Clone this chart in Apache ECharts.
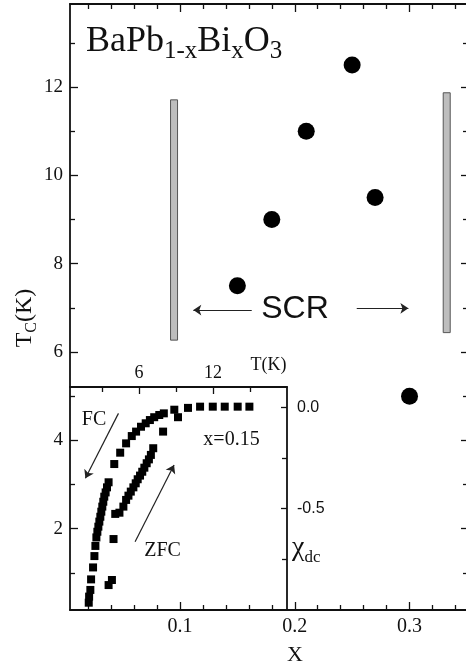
<!DOCTYPE html>
<html>
<head>
<meta charset="utf-8">
<script src="https://cdn.jsdelivr.net/npm/echarts@6/dist/echarts.min.js"></script>
<style>
html,body{margin:0;padding:0;background:#fff;}
#chart{width:466px;height:666px;}
</style>
</head>
<body>
<div id="chart"></div>
<script>
// ---- Main panel data: Tc vs Bi content x ----
const dopingX = [0.15, 0.18, 0.21, 0.25, 0.27, 0.30];
const tcK = [7.5, 9.0, 11.0, 12.5, 9.5, 5.0];

// SCR boundary bars (x, top Tc, bottom Tc)
const scrBoundX = [0.0948, 0.3324];
const scrBoundTop = [11.71, 11.87];
const scrBoundBottom = [6.27, 6.44];

// SCR arrows (start x, end x, y)
const scrArrowStartX = [0.1625, 0.254];
const scrArrowEndX = [0.1116, 0.299];
const scrArrowY = [6.95, 6.99];

// ---- Inset data: chi_dc vs T (x = 0.15) ----
const fcT = [1.92, 1.95, 2.05, 2.11, 2.27, 2.38, 2.46, 2.54, 2.62, 2.70, 2.78, 2.86, 2.94, 3.02, 3.10, 3.18, 3.29, 3.40, 3.53, 3.99, 4.47, 4.95, 5.41, 5.76, 6.16, 6.54, 6.88, 7.23, 7.64, 8.01, 8.86, 9.97, 10.95, 11.98, 12.95, 14.0, 14.95];
const fcChi = [-0.964, -0.934, -0.901, -0.849, -0.790, -0.734, -0.684, -0.642, -0.614, -0.589, -0.564, -0.540, -0.515, -0.490, -0.466, -0.441, -0.420, -0.395, -0.370, -0.280, -0.224, -0.178, -0.142, -0.120, -0.096, -0.079, -0.063, -0.049, -0.038, -0.030, -0.012, -0.003, 0.003, 0.003, 0.003, 0.003, 0.003];
const zfcT = [3.53, 3.80, 3.93, 4.07, 4.41, 4.73, 4.95, 5.14, 5.33, 5.54, 5.73, 5.89, 6.08, 6.26, 6.43, 6.62, 6.80, 6.96, 7.15, 7.95, 9.16];
const zfcChi = [-0.877, -0.852, -0.650, -0.526, -0.520, -0.490, -0.457, -0.436, -0.416, -0.395, -0.375, -0.355, -0.337, -0.318, -0.298, -0.276, -0.257, -0.235, -0.202, -0.120, -0.049];

// Inset arrows (T, chi)
const fcArrowFrom = [4.33, -0.030];
const fcArrowTo = [1.65, -0.350];
const zfcArrowFrom = [5.68, -0.663];
const zfcArrowTo = [8.84, -0.285];

// ---- Tick values ----
const xMajorTicks = [0.1, 0.2, 0.3];
const xMinorTicks = [0.02, 0.04, 0.06, 0.08, 0.12, 0.14, 0.16, 0.18, 0.22, 0.24, 0.26, 0.28, 0.32, 0.34];
const yMajorTicks = [2, 4, 6, 8, 10, 12];
const yMinorTicks = [1, 3, 5, 7, 9, 11, 13];
const tMajorTicks = [6, 12];
const tMinorTicks = [3, 9, 15];
const chiMajorTicks = [0, -0.5];
const chiMinorTicks = [-0.25, -0.75];

const X_MIN = 0.00414, X_MAX = 0.3527;
const Y_MIN = 0.16, Y_MAX = 13.88;
const T_MIN = 0.4, T_MAX = 18;
const CHI_MIN = -1.0, CHI_MAX = 0.1;

const INK = '#111';
const SERIF = 'Liberation Serif';
const SANS = 'Liberation Sans';

function ax(o) {
  const base = {
    type: 'value',
    splitLine: {show: false},
    axisLine: {show: false, onZero: false, lineStyle: {color: INK, width: 1.8}},
    axisTick: {show: true, inside: true, length: 8, lineStyle: {color: INK, width: 1.3}},
    axisLabel: {show: false},
    animation: false
  };
  const r = Object.assign({}, base, o);
  if (o.axisTick) r.axisTick = Object.assign({}, base.axisTick, o.axisTick);
  if (o.axisLine) r.axisLine = Object.assign({}, base.axisLine, o.axisLine);
  return r;
}

const xAxes = [
  ax({gridIndex: 0, position: 'bottom', min: X_MIN, max: X_MAX,
      axisLine: {show: true},
      axisTick: {customValues: xMajorTicks, length: 8},
      axisLabel: {show: true, customValues: xMajorTicks, formatter: v => v.toFixed(1),
                  fontFamily: SERIF, fontSize: 20, color: INK, margin: 7}}),
  ax({gridIndex: 0, position: 'bottom', min: X_MIN, max: X_MAX,
      axisTick: {customValues: xMinorTicks, length: 5}}),
  ax({gridIndex: 0, position: 'top', min: X_MIN, max: X_MAX,
      axisLine: {show: true},
      axisTick: {customValues: xMajorTicks, length: 8}}),
  ax({gridIndex: 0, position: 'top', min: X_MIN, max: X_MAX,
      axisTick: {customValues: xMinorTicks, length: 5}}),
  ax({gridIndex: 1, position: 'top', min: T_MIN, max: T_MAX,
      axisLine: {show: true},
      axisTick: {customValues: tMinorTicks, length: 5}}),
  ax({gridIndex: 1, position: 'top', min: T_MIN, max: T_MAX,
      axisTick: {customValues: tMajorTicks, length: 7},
      axisLabel: {show: true, customValues: tMajorTicks, fontFamily: SERIF, fontSize: 18, color: INK, margin: 5}})
];

const yAxes = [
  ax({gridIndex: 0, position: 'left', min: Y_MIN, max: Y_MAX,
      axisLine: {show: true},
      axisTick: {customValues: yMajorTicks, length: 8},
      axisLabel: {show: true, customValues: yMajorTicks, fontFamily: SERIF, fontSize: 19, color: INK, margin: 7}}),
  ax({gridIndex: 0, position: 'left', min: Y_MIN, max: Y_MAX,
      axisTick: {customValues: yMinorTicks, length: 5}}),
  ax({gridIndex: 0, position: 'right', min: Y_MIN, max: Y_MAX,
      axisLine: {show: true},
      axisTick: {customValues: yMajorTicks, length: 9}}),
  ax({gridIndex: 0, position: 'right', min: Y_MIN, max: Y_MAX,
      axisTick: {customValues: yMinorTicks, length: 7}}),
  ax({gridIndex: 1, position: 'right', min: CHI_MIN, max: CHI_MAX,
      axisLine: {show: true},
      axisTick: {customValues: chiMinorTicks, length: 5}}),
  ax({gridIndex: 1, position: 'right', min: CHI_MIN, max: CHI_MAX,
      axisTick: {customValues: chiMajorTicks, length: 6},
      axisLabel: {show: true, customValues: chiMajorTicks, formatter: v => v.toFixed(1),
                  fontFamily: SANS, fontSize: 16, color: INK, margin: 10}})
];

function zip(a, b) { return a.map((v, i) => [v, b[i]]); }

const series = [
  {
    type: 'custom', xAxisIndex: 0, yAxisIndex: 0, silent: true,
    data: scrBoundX.map((x, i) => [x, scrBoundTop[i], scrBoundBottom[i]]),
    encode: {x: 0, y: [1, 2]},
    renderItem: function (params, api) {
      const p1 = api.coord([api.value(0), api.value(1)]);
      const p2 = api.coord([api.value(0), api.value(2)]);
      const w = 7;
      return {type: 'rect', shape: {x: p1[0] - w / 2, y: p1[1], width: w, height: p2[1] - p1[1]},
              style: {fill: '#bdbdbd', stroke: '#555', lineWidth: 1}};
    }
  },
  {
    type: 'scatter', xAxisIndex: 0, yAxisIndex: 0, symbol: 'circle', symbolSize: 17,
    itemStyle: {color: '#000', opacity: 1}, data: zip(dopingX, tcK), silent: true
  },
  {
    type: 'lines', coordinateSystem: 'cartesian2d', xAxisIndex: 0, yAxisIndex: 0, silent: true,
    symbol: ['none', 'arrow'], symbolSize: [0, 8],
    lineStyle: {color: '#222', width: 1.2, opacity: 1, curveness: 0},
    data: scrArrowStartX.map((x, i) => ({coords: [[x, scrArrowY[i]], [scrArrowEndX[i], scrArrowY[i]]]}))
  },
  {
    type: 'scatter', xAxisIndex: 4, yAxisIndex: 4, symbol: 'rect', symbolSize: 8,
    itemStyle: {color: '#000', opacity: 1}, data: zip(fcT, fcChi), silent: true
  },
  {
    type: 'scatter', xAxisIndex: 4, yAxisIndex: 4, symbol: 'rect', symbolSize: 8,
    itemStyle: {color: '#000', opacity: 1}, data: zip(zfcT, zfcChi), silent: true
  },
  {
    type: 'lines', coordinateSystem: 'cartesian2d', xAxisIndex: 4, yAxisIndex: 4, silent: true,
    symbol: ['none', 'arrow'], symbolSize: [0, 8],
    lineStyle: {color: '#222', width: 1.2, opacity: 1, curveness: 0},
    data: [{coords: [fcArrowFrom, fcArrowTo]}, {coords: [zfcArrowFrom, zfcArrowTo]}]
  }
];

function txt(x, y, text, font, size, align, valign, extra) {
  return Object.assign({
    type: 'text', x: x, y: y, silent: true, z: 100,
    style: {text: text, fontFamily: font, fontSize: size, fill: INK,
            align: align, verticalAlign: valign, textAlign: align, textVerticalAlign: valign}
  }, extra || {});
}

const graphic = [
  {
    type: 'text', x: 86, y: 20, silent: true, z: 100,
    style: {
      text: '{m|BaPb}{s|1-x}{m|Bi}{s|x}{m|O}{s|3}',
      align: 'left', verticalAlign: 'top', textAlign: 'left', textVerticalAlign: 'top',
      rich: {
        m: {fontFamily: SERIF, fontSize: 36, lineHeight: 44, fill: INK},
        s: {fontFamily: SERIF, fontSize: 25, lineHeight: 8, verticalAlign: 'bottom', fill: INK}
      }
    }
  },
  txt(295, 309, 'SCR', SANS, 32, 'center', 'middle'),
  txt(94, 420, 'FC', SERIF, 20, 'center', 'middle'),
  txt(162.5, 551, 'ZFC', SERIF, 20, 'center', 'middle'),
  txt(231.5, 440, 'x=0.15', SERIF, 20, 'center', 'middle'),
  txt(268.5, 365, 'T(K)', SERIF, 18, 'center', 'middle'),
  txt(295, 655, 'X', SERIF, 22, 'center', 'middle'),
  {
    type: 'text', x: 292, y: 530, silent: true, z: 100,
    style: {
      text: '{c|χ}{s|dc}',
      align: 'left', verticalAlign: 'top', textAlign: 'left', textVerticalAlign: 'top',
      rich: {
        c: {fontFamily: SERIF, fontSize: 28, lineHeight: 36, fill: INK},
        s: {fontFamily: SERIF, fontSize: 17, lineHeight: 10, verticalAlign: 'bottom', fill: INK}
      }
    }
  },
  {
    type: 'text', x: 25, y: 318, rotation: Math.PI / 2, silent: true, z: 100,
    style: {
      text: '{m|T}{s|C}{m|(K)}',
      align: 'center', verticalAlign: 'middle', textAlign: 'center', textVerticalAlign: 'middle',
      rich: {
        m: {fontFamily: SERIF, fontSize: 24, lineHeight: 30, fill: INK},
        s: {fontFamily: SERIF, fontSize: 16, lineHeight: 10, verticalAlign: 'bottom', fill: INK}
      }
    }
  }
];

const chart = echarts.init(document.getElementById('chart'), null, {renderer: 'canvas'});
chart.setOption({
  animation: false,
  backgroundColor: '#fff',
  grid: [
    {left: 70, top: 4, width: 400, height: 606, outerBoundsMode: 'none', containLabel: false},
    {left: 70, top: 387, width: 217, height: 223, outerBoundsMode: 'none', containLabel: false}
  ],
  xAxis: xAxes,
  yAxis: yAxes,
  series: series,
  graphic: graphic
});
</script>
</body>
</html>
